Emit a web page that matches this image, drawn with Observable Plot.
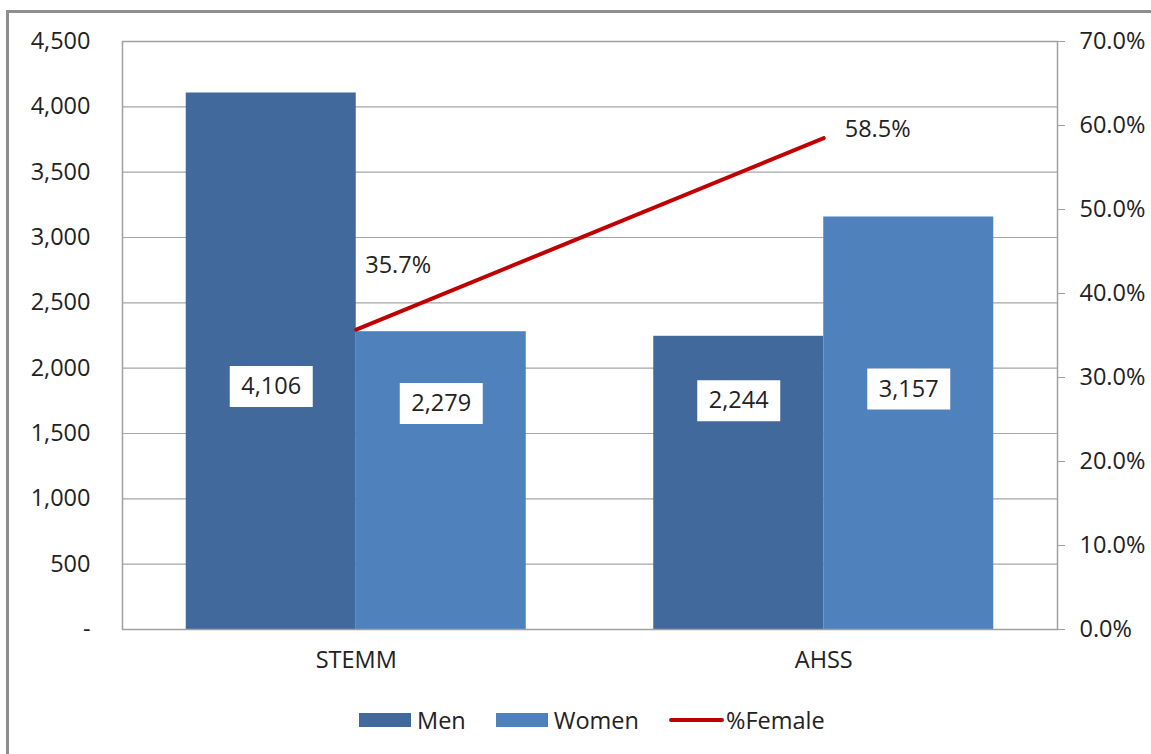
<!DOCTYPE html>
<html>
<head>
<meta charset="utf-8">
<script src="https://cdn.jsdelivr.net/npm/d3@7"></script>
<script src="https://cdn.jsdelivr.net/npm/@observablehq/plot@0.6"></script>
<style>
  body { margin: 0; background: #fff; font-family: "Open Sans", sans-serif; }
  #wrap { position: relative; width: 1151px; height: 754px; overflow: hidden; background: #fff; }
  #chart { position: absolute; left: 0; top: 0; }
  #border { position: absolute; left: 6px; top: 10px; width: 1300px; height: 900px; border: 3px solid #8e8e8e; pointer-events: none; }
  #legend { position: absolute; left: 359px; top: 705px; display: flex; align-items: center; font-size: 23.5px; color: #222; line-height: 30px; }
  .sw { display: inline-block; width: 52px; height: 14px; margin-right: 6px; }
  .ln { display: inline-block; width: 55px; height: 4px; background: #C00000; margin-right: 2px; border-radius: 2px; }
  .item { display: flex; align-items: center; margin-right: 30px; }
</style>
</head>
<body>
<div id="wrap">
  <div id="chart"></div>
  <div id="legend"></div>
  <div id="border"></div>
</div>
<script>
// ---- data ----
const categories = ["STEMM", "AHSS"];
const men = [4106, 2244];
const women = [2279, 3157];
const pctFemale = [35.7, 58.5];
const leftTicks = [0, 500, 1000, 1500, 2000, 2500, 3000, 3500, 4000, 4500];
const rightTicks = [0, 10, 20, 30, 40, 50, 60, 70];

// ---- layout constants ----
const yMax = 4500, pMax = 70;
const gapWidth = 0.75;                 // Excel-style gap width
const bw = 1 / (2 + gapWidth);         // bar width in category units
const labelAnchor = [[1860, 1730], [1750, 1840]]; // label box centres (value units) [cat][Men,Women]
const colMen = "#41699C", colWomen = "#4F81BD", colRed = "#C00000";
const fs = 23.5;

const toLeft = p => p * yMax / pMax;
const fmt = d3.format(",");

const bars = [];
categories.forEach((c, i) => {
  bars.push({cat: c, sex: "Men", x1: i - bw, x2: i, value: men[i], ly: labelAnchor[i][0]});
  bars.push({cat: c, sex: "Women", x1: i, x2: i + bw, value: women[i], ly: labelAnchor[i][1]});
});
const line = categories.map((c, i) => ({x: i, y: toLeft(pctFemale[i]), pct: pctFemale[i]}));

const boxSymbol = { draw(ctx) { ctx.moveTo(-41.5, -20.5); ctx.lineTo(41.5, -20.5); ctx.lineTo(41.5, 20.5); ctx.lineTo(-41.5, 20.5); ctx.closePath(); } };

const plot = Plot.plot({
  width: 1151,
  height: 690,
  marginTop: 41,
  marginBottom: 61,
  marginLeft: 122,
  marginRight: 94,
  style: { fontFamily: "Open Sans, sans-serif", fontSize: fs + "px", background: "transparent", overflow: "visible" },
  x: { type: "linear", domain: [-0.5, categories.length - 0.5], axis: null },
  y: { domain: [0, yMax], axis: null },
  marks: [
    Plot.gridY(leftTicks, { stroke: "#a6a6a6", strokeOpacity: 1, strokeWidth: 1.2 }),
    Plot.rectY(bars, { x1: "x1", x2: "x2", y: "value", fill: d => d.sex === "Men" ? colMen : colWomen }),
    Plot.frame({ stroke: "#a0a0a0", strokeWidth: 1.5 }),
    Plot.axisY(leftTicks, { anchor: "left", tickSize: 0, tickPadding: 32, tickFormat: d => d === 0 ? "-" : fmt(d), fill: "#222", fontSize: fs }),
    Plot.axisY(rightTicks.map(toLeft), { anchor: "right", tickSize: 7, tickPadding: 15, stroke: "#a0a0a0", fill: "#222", fontSize: fs,
      tickFormat: v => (v * pMax / yMax).toFixed(1) + "%" }),
    Plot.axisX(categories.map((c, i) => i), { anchor: "bottom", tickSize: 0, tickPadding: 22, tickFormat: i => categories[i], fill: "#222", fontSize: fs }),
    Plot.line(line, { x: "x", y: "y", stroke: colRed, strokeWidth: 4, strokeLinecap: "round" }),
    Plot.text([line[0]], { x: "x", y: "y", text: d => d.pct.toFixed(1) + "%", textAnchor: "start", dx: 9, dy: -64, fill: "#222", fontSize: fs }),
    Plot.text([line[1]], { x: "x", y: "y", text: d => d.pct.toFixed(1) + "%", textAnchor: "start", dx: 21, dy: -9, fill: "#222", fontSize: fs }),
    Plot.dot(bars, { x: d => (d.x1 + d.x2) / 2, y: "ly", symbol: boxSymbol, fill: "white", stroke: "none", r: 20 }),
    Plot.text(bars, { x: d => (d.x1 + d.x2) / 2, y: "ly", text: d => fmt(d.value), fill: "#222", fontSize: fs })
  ]
});
document.getElementById("chart").appendChild(plot);

// legend
const legend = document.getElementById("legend");
[["Men", colMen], ["Women", colWomen]].forEach(([name, col]) => {
  const it = document.createElement("div"); it.className = "item";
  it.innerHTML = `<span class="sw" style="background:${col}"></span><span>${name}</span>`;
  legend.appendChild(it);
});
const it = document.createElement("div"); it.className = "item";
it.innerHTML = `<span class="ln"></span><span>%Female</span>`;
legend.appendChild(it);
</script>
</body>
</html>
